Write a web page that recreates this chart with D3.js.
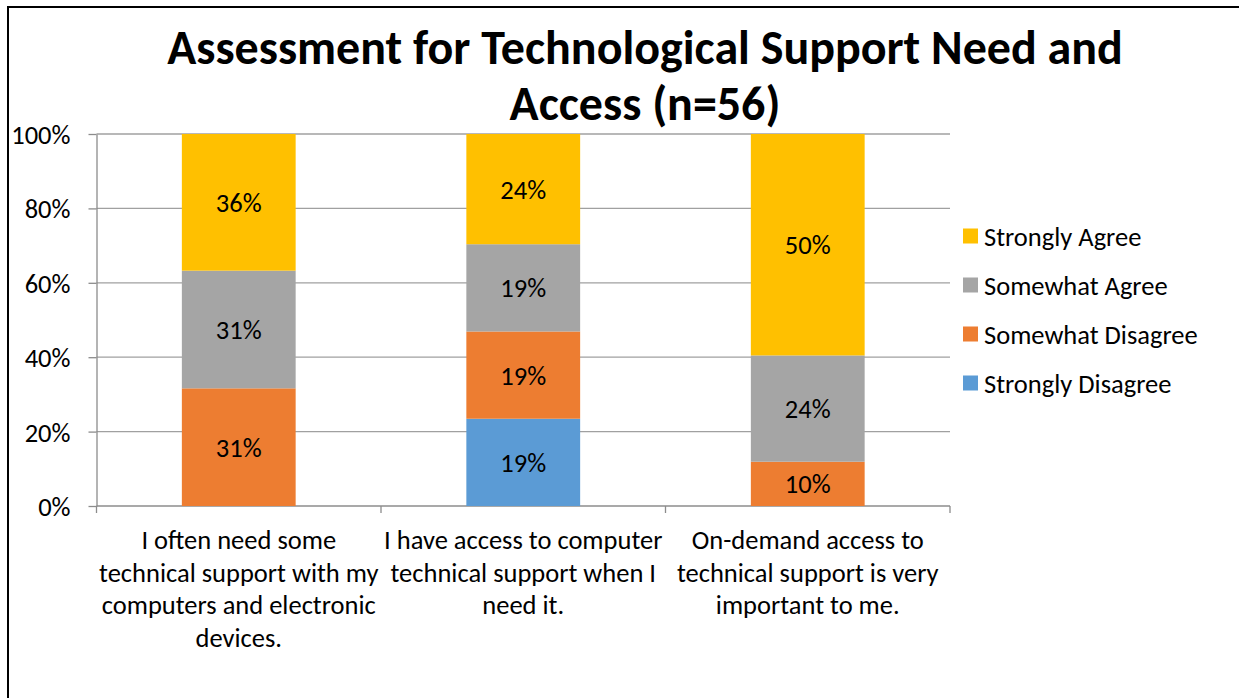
<!DOCTYPE html>
<html>
<head>
<meta charset="utf-8">
<script src="https://cdn.jsdelivr.net/npm/d3@7"></script>
<style>
  html, body { margin: 0; padding: 0; background: #fff; }
  svg { display: block; }
  text { font-family: Carlito, Lato, "Open Sans", sans-serif; fill: #000; }
</style>
</head>
<body>
<svg id="chart" width="1239" height="698"></svg>
<script>
// Survey statements (x-axis categories), wrapped as shown under each bar
const categories = [
  "I often need some|technical support with my|computers and electronic|devices.",
  "I have access to computer|technical support when I|need it.",
  "On-demand access to|technical support is very|important to me."
];

// Response shares (percent of respondents) per statement
const stronglyDisagree = [0, 19, 0];
const somewhatDisagree = [31, 19, 10];
const somewhatAgree    = [31, 19, 24];
const stronglyAgree    = [36, 24, 50];

// Stack order, bottom to top
const seriesNames = ["Strongly Disagree", "Somewhat Disagree", "Somewhat Agree", "Strongly Agree"];
const seriesColors = ["#5B9BD5", "#ED7D31", "#A5A5A5", "#FFC000"];

const yTicks = [0, 0.2, 0.4, 0.6, 0.8, 1.0];
const titleLines = ["Assessment for Technological Support Need and", "Access (n=56)"];

const rows = categories.map((c, i) => ({
  category: c,
  "Strongly Disagree": stronglyDisagree[i],
  "Somewhat Disagree": somewhatDisagree[i],
  "Somewhat Agree": somewhatAgree[i],
  "Strongly Agree": stronglyAgree[i]
}));

const FONT = 26.5;
const svg = d3.select("#chart");

// outer chart frame
svg.append("rect")
  .attr("x", 8).attr("y", 7)
  .attr("width", 1260).attr("height", 720)
  .attr("fill", "#fff").attr("stroke", "#000").attr("stroke-width", 2);

const plot = { left: 96.5, right: 950, top: 134, bottom: 506 };

const x = d3.scaleBand()
  .domain(categories)
  .range([plot.left, plot.right])
  .paddingInner(0.6)
  .paddingOuter(0.3);

const y = d3.scaleLinear().domain([0, 1]).range([plot.bottom, plot.top]);

const color = d3.scaleOrdinal().domain(seriesNames).range(seriesColors);

const stacked = d3.stack()
  .keys(seriesNames)
  .offset(d3.stackOffsetExpand)(rows);

// horizontal gridlines
svg.append("g")
  .selectAll("line")
  .data(yTicks.filter(t => t > 0))
  .join("line")
  .attr("x1", plot.left).attr("x2", plot.right)
  .attr("y1", d => y(d)).attr("y2", d => y(d))
  .attr("stroke", "#a0a0a0").attr("stroke-width", 1.3);

// y axis
const yAxis = svg.append("g")
  .attr("transform", `translate(${plot.left},0)`)
  .call(d3.axisLeft(y).tickValues(yTicks).tickFormat(d3.format(".0%")).tickSizeInner(8).tickSizeOuter(0).tickPadding(18));
yAxis.select(".domain").attr("stroke", "#8c8c8c").attr("stroke-width", 1.3);
yAxis.selectAll(".tick line").attr("stroke", "#8c8c8c").attr("stroke-width", 1.3);
yAxis.selectAll(".tick text")
  .attr("font-size", FONT).attr("fill", "#000")
  .style("font-family", "Carlito, Lato, sans-serif")
  .attr("dy", "0.36em");

// x axis baseline and category boundary ticks
const boundaries = [plot.left].concat(categories.map(c => x(c) + x.bandwidth() + (x.step() - x.bandwidth()) / 2));
svg.append("line")
  .attr("x1", plot.left).attr("x2", plot.right)
  .attr("y1", plot.bottom).attr("y2", plot.bottom)
  .attr("stroke", "#8c8c8c").attr("stroke-width", 1.3);
svg.append("g")
  .selectAll("line")
  .data(boundaries)
  .join("line")
  .attr("x1", d => d).attr("x2", d => d)
  .attr("y1", plot.bottom).attr("y2", plot.bottom + 7)
  .attr("stroke", "#8c8c8c").attr("stroke-width", 1.3);

// stacked bars
const layer = svg.append("g")
  .selectAll("g")
  .data(stacked)
  .join("g")
  .attr("fill", d => color(d.key));

layer.selectAll("rect")
  .data(d => d)
  .join("rect")
  .attr("x", d => x(d.data.category))
  .attr("width", x.bandwidth())
  .attr("y", d => y(d[1]))
  .attr("height", d => y(d[0]) - y(d[1]));

// value labels centred in each segment
svg.append("g")
  .selectAll("g")
  .data(stacked)
  .join("g")
  .selectAll("text")
  .data(d => d.map(p => ({ p, key: d.key })).filter(o => o.p.data[o.key] > 0))
  .join("text")
  .attr("x", o => x(o.p.data.category) + x.bandwidth() / 2)
  .attr("y", o => (y(o.p[0]) + y(o.p[1])) / 2)
  .attr("dy", "0.36em")
  .attr("text-anchor", "middle")
  .attr("font-size", FONT)
  .text(o => o.p.data[o.key] + "%");

// category labels
const catLabels = svg.append("g")
  .selectAll("text")
  .data(categories)
  .join("text")
  .attr("x", d => x(d) + x.bandwidth() / 2)
  .attr("y", 549)
  .attr("text-anchor", "middle")
  .attr("font-size", FONT);
catLabels.selectAll("tspan")
  .data(d => d.split("|").map(line => ({ line, cx: x(d) + x.bandwidth() / 2 })))
  .join("tspan")
  .attr("x", t => t.cx)
  .attr("dy", (t, i) => i === 0 ? 0 : 32.7)
  .text(t => t.line);

// title
svg.append("g")
  .selectAll("text")
  .data(titleLines)
  .join("text")
  .attr("x", 645)
  .attr("y", (d, i) => 64 + i * 56)
  .attr("text-anchor", "middle")
  .attr("font-size", 48)
  .attr("font-weight", "bold")
  .text(d => d);

// legend, top to bottom: Strongly Agree ... Strongly Disagree
const legendItems = seriesNames.slice().reverse();
const legend = svg.append("g")
  .selectAll("g")
  .data(legendItems)
  .join("g")
  .attr("transform", (d, i) => `translate(963,${236 + i * 49})`);
legend.append("rect")
  .attr("x", 0).attr("y", -7.5)
  .attr("width", 15).attr("height", 15)
  .attr("fill", d => color(d));
legend.append("text")
  .attr("x", 21)
  .attr("dy", "0.36em")
  .attr("font-size", FONT)
  .text(d => d);
</script>
</body>
</html>
